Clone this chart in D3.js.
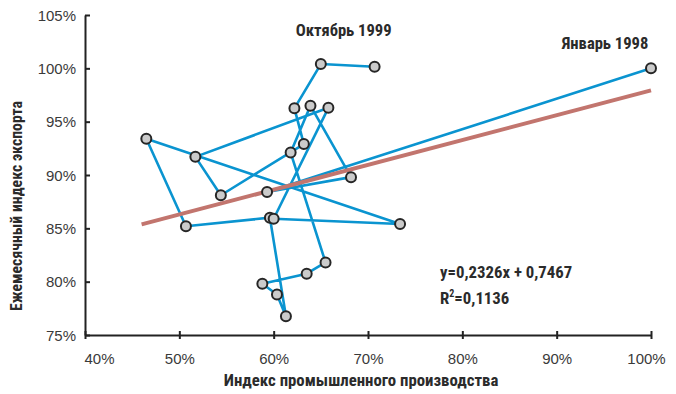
<!DOCTYPE html>
<html>
<head>
<meta charset="utf-8">
<script src="https://cdn.jsdelivr.net/npm/d3@7"></script>
<style>
  html, body { margin: 0; padding: 0; background: #fff; }
  svg { display: block; }
  .cond { font-family: "Liberation Sans Narrow", "Roboto Condensed", "DejaVu Sans Condensed", "Arial Narrow", sans-serif; }
  .reg { font-family: "Liberation Sans", Arial, sans-serif; }
</style>
</head>
<body>
<svg id="chart" width="676" height="394"></svg>
<script>
// Chronological months (January 1998 .. October 1999)
const months = ["Январь 1998","Февраль 1998","Март 1998","Апрель 1998","Май 1998","Июнь 1998",
  "Июль 1998","Август 1998","Сентябрь 1998","Октябрь 1998","Ноябрь 1998","Декабрь 1998",
  "Январь 1999","Февраль 1999","Март 1999","Апрель 1999","Май 1999","Июнь 1999",
  "Июль 1999","Август 1999","Сентябрь 1999","Октябрь 1999"];
// Industrial production index, %
const industry = [100.0, 59.3, 68.2, 63.9, 61.8, 65.5, 63.5, 58.8, 60.35, 61.3, 59.6, 50.7,
  46.5, 73.4, 60.0, 65.8, 51.7, 54.4, 63.2, 62.2, 65.0, 70.7];
// Monthly export index, %
const exportIdx = [100.0, 88.4, 89.8, 96.5, 92.1, 81.8, 80.75, 79.8, 78.8, 76.75, 86.0, 85.2,
  93.4, 85.4, 85.9, 96.3, 91.7, 88.1, 92.9, 96.25, 100.4, 100.15];
// Linear trend y = a*x + b (x, y as fractions)
const trendCoef = [0.2326, 0.7467];
const trendRange = [0.46, 1.0];
const rSquared = "0,1136";
// Tick values
const xTicks = [0.4, 0.5, 0.6, 0.7, 0.8, 0.9, 1.0];
const yTicks = [0.75, 0.80, 0.85, 0.90, 0.95, 1.00, 1.05];
const labeledMonths = ["Январь 1998", "Октябрь 1999"];

const data = months.map((m, i) => ({ m, x: industry[i] / 100, y: exportIdx[i] / 100 }));

const svg = d3.select("#chart");
const x = d3.scaleLinear().domain([0.4, 1.0]).range([85, 651]);
const y = d3.scaleLinear().domain([0.75, 1.05]).range([335, 15]);
const pct = d3.format(".0%");
const textCol = "#2b2b2b";

// Axes
const xAxis = svg.append("g").attr("transform", "translate(0,335)")
  .call(d3.axisBottom(x).tickValues(xTicks).tickFormat(pct).tickSizeInner(4).tickSizeOuter(0).tickPadding(14));
const yAxis = svg.append("g").attr("transform", "translate(85,0)")
  .call(d3.axisLeft(y).tickValues(yTicks).tickFormat(pct).tickSizeInner(6).tickSizeOuter(0).tickPadding(3));
[xAxis, yAxis].forEach(g => {
  g.select(".domain").attr("stroke", "#222").attr("stroke-width", 2);
  g.selectAll(".tick line").attr("stroke", "#222").attr("stroke-width", 2);
  g.selectAll(".tick text").attr("class", "reg").attr("fill", "#3a3a3a")
    .style("font-size", "15px").style("font-weight", "normal");
});
// ticks crossing the axis
xAxis.selectAll(".tick line").attr("y1", -4);
yAxis.selectAll(".tick line").attr("x2", 5);
xAxis.selectAll(".tick text").attr("dy", "0.75em");
xAxis.selectAll(".tick").filter(d => d === 0.4).select("text").attr("text-anchor", "start").attr("dx", -1);
xAxis.selectAll(".tick").filter(d => d === 1.0).select("text").attr("dx", -5);
yAxis.selectAll(".tick text").attr("dy", "0.35em");

// Axis titles
svg.append("text").attr("class", "cond")
  .attr("x", 361).attr("y", 386).attr("text-anchor", "middle")
  .attr("fill", textCol).style("font-size", "16.8px").style("font-weight", "bold")
  .text("Индекс промышленного производства");
svg.append("text").attr("class", "cond")
  .attr("transform", "translate(22,206) rotate(-90)").attr("text-anchor", "middle")
  .attr("fill", textCol).style("font-size", "15.8px").style("font-weight", "bold")
  .text("Ежемесячный индекс экспорта");

// Path line (chronological)
const line = d3.line().x(d => x(d.x)).y(d => y(d.y));
svg.append("path").datum(data)
  .attr("d", line).attr("fill", "none")
  .attr("stroke", "#0a94d0").attr("stroke-width", 2.6).attr("stroke-linejoin", "round");

// Trend line
const trend = trendRange.map(v => ({ x: v, y: trendCoef[0] * v + trendCoef[1] }));
svg.append("path").datum(trend)
  .attr("d", line).attr("fill", "none")
  .attr("stroke", "#c2756e").attr("stroke-width", 4);

// Markers
svg.append("g").selectAll("circle").data(data).join("circle")
  .attr("cx", d => x(d.x)).attr("cy", d => y(d.y)).attr("r", 5)
  .attr("fill", "#cbcbcb").attr("stroke", "#262626").attr("stroke-width", 2);

// Point labels
const lab = data.filter(d => labeledMonths.includes(d.m));
svg.append("g").selectAll("text").data(lab).join("text").attr("class", "cond")
  .attr("x", d => d.m === "Январь 1998" ? x(d.x) - 46 : x(d.x) - 31)
  .attr("y", d => d.m === "Январь 1998" ? y(d.y) - 19 : y(d.y) - 31)
  .attr("text-anchor", "middle").attr("fill", textCol)
  .style("font-size", "16.6px").style("font-weight", "bold")
  .text(d => d.m);

// Equation and R²
svg.append("text").attr("class", "cond").attr("x", 440).attr("y", 278)
  .attr("fill", textCol).style("font-size", "16.8px").style("font-weight", "bold")
  .text(`y=${String(trendCoef[0]).replace(".", ",")}x + ${String(trendCoef[1]).replace(".", ",")}`);
const r2 = svg.append("text").attr("class", "cond").attr("x", 440).attr("y", 304)
  .attr("fill", textCol).style("font-size", "16.8px").style("font-weight", "bold");
r2.append("tspan").text("R");
r2.append("tspan").attr("dy", -7).style("font-size", "10px").text("2");
r2.append("tspan").attr("dy", 7).text("=" + rSquared);
</script>
</body>
</html>
